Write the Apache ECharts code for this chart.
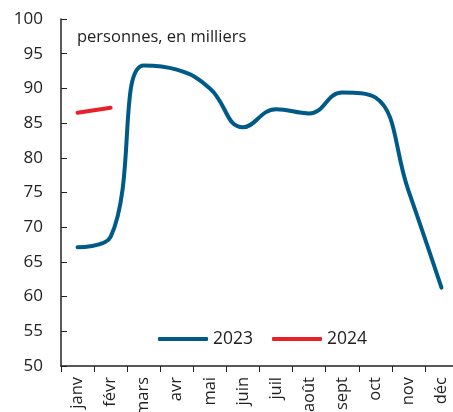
<!DOCTYPE html>
<html>
<head>
<meta charset="utf-8">
<script src="https://cdn.jsdelivr.net/npm/echarts@6/dist/echarts.min.js"></script>
<style>
  html, body { margin: 0; padding: 0; background: #fff; }
  #main { width: 453px; height: 412px; }
</style>
</head>
<body>
<div id="main"></div>
<script>
// mois et valeurs (personnes, en milliers)
var mois = ['janv', 'févr', 'mars', 'avr', 'mai', 'juin', 'juil', 'août', 'sept', 'oct', 'nov', 'déc'];
var valeurs2023 = [67.1, 68.6, 93.3, 92.7, 90.0, 84.4, 87.0, 86.4, 89.4, 88.7, 75.3, 61.3];
var valeurs2024 = [86.5, 87.2];
var yTicks = { min: 50, max: 100, interval: 5 };

var myChart = echarts.init(document.getElementById('main'));

myChart.setOption({
  animation: false,
  textStyle: { fontFamily: 'Open Sans' },
  title: {
    text: 'personnes, en milliers',
    left: 72,
    top: 24,
    textStyle: { fontSize: 16.5, fontWeight: 'normal', color: '#222', fontFamily: 'Open Sans' }
  },
  legend: {
    left: 153,
    top: 325,
    itemWidth: 50,
    itemHeight: 4,
    itemGap: 19,
    icon: 'roundRect',
    textStyle: { fontSize: 17.5, color: '#222' },
    data: ['2023', '2024']
  },
  grid: {
    left: 61,
    top: 19,
    width: 397,
    bottom: 46,
    containLabel: false,
    outerBoundsMode: 'none'
  },
  xAxis: {
    type: 'category',
    boundaryGap: true,
    data: mois,
    axisLine: { lineStyle: { color: '#222', width: 1.5 } },
    axisTick: { show: true, length: 6, inside: false, lineStyle: { color: '#222' } },
    axisLabel: { rotate: 90, fontSize: 16.5, color: '#222', margin: 11, interval: 0 }
  },
  yAxis: {
    type: 'value',
    min: yTicks.min,
    max: yTicks.max,
    interval: yTicks.interval,
    splitLine: { show: false },
    axisLine: { show: true, lineStyle: { color: '#222', width: 1.5 } },
    axisTick: { show: true, inside: true, length: 6, lineStyle: { color: '#222' } },
    axisLabel: { fontSize: 17, color: '#222', margin: 18 }
  },
  series: [
    {
      name: '2023',
      type: 'line',
      data: valeurs2023,
      smooth: 0.45,
      showSymbol: false,
      symbol: 'none',
      color: '#005a87',
      lineStyle: { width: 4, color: '#005a87', cap: 'round' }
    },
    {
      name: '2024',
      type: 'line',
      data: valeurs2024,
      smooth: true,
      showSymbol: false,
      symbol: 'none',
      color: '#e8202a',
      lineStyle: { width: 4, color: '#e8202a', cap: 'round' }
    }
  ]
});
</script>
</body>
</html>
